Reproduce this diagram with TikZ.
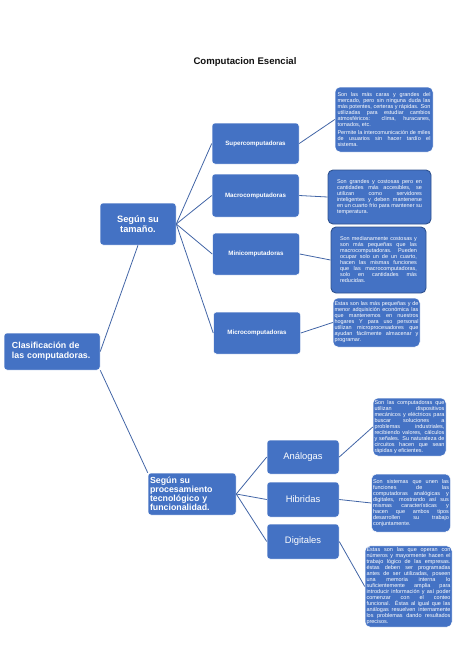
\documentclass[tikz,border=0pt]{standalone}
\usepackage{fontspec}
\setmainfont{Liberation Sans}
\usetikzlibrary{positioning}
\definecolor{cBox}  {HTML}{4472C4}
\definecolor{cEdge} {HTML}{2F528F}
\definecolor{cLine} {HTML}{4265A6}
\definecolor{cTitle}{HTML}{111111}

\begin{document}
\begin{tikzpicture}[
  x=1pt, y=-1pt,
  every node/.style={text=white},
  %
  mainbox/.style={
    fill=cBox, draw=white, line width=0.5pt,
    rounded corners=3pt, inner sep=2pt,
  },
  rootbox/.style={
    mainbox, align=left, text width=80pt, inner xsep=8pt,
    minimum width=96pt, minimum height=37pt,
    font=\fontsize{8.8}{10}\selectfont\bfseries,
  },
  groupbox/.style={
    mainbox, minimum width=#1, minimum height=42pt,
    font=\fontsize{9.3}{10.4}\selectfont\bfseries,
  },
  typebox/.style={
    mainbox, minimum width=87pt, minimum height=#1,
    font=\fontsize{6.2}{7}\selectfont\bfseries,
  },
  kindbox/.style={
    mainbox, minimum width=72pt, minimum height=#1,
    font=\fontsize{9.4}{10}\selectfont,
  },
  notebox/.style={
    fill=cBox, draw=white, line width=0.5pt,
    rounded corners=5pt, inner xsep=1.5pt, inner ysep=2pt,
    align=justify, text width=#1,
    font=\fontsize{5.5}{6}\selectfont,
  },
  darkedge/.style={draw=cEdge, line width=0.9pt},
  link/.style={draw=cLine, line width=0.8pt},
]
\useasboundingbox (0,0) rectangle (474,670);

% ────────────── TITLE ──────────────────────────────────────────────────────
\node[text=cTitle, font=\fontsize{9.6}{11}\selectfont\bfseries] (title) at (245,62) {Computacion Esencial};

% ────────────── ROOT + GROUPS ──────────────────────────────────────────────
\node[rootbox] (clasif) at (52,351.5) {Clasificación de\\las computadoras.};
\node[groupbox=76pt, align=center] (tamano) at (138,224) {Según su\\tamaño.};
\node[groupbox=88pt, align=left, text width=84pt,
      font=\fontsize{8.8}{9.2}\selectfont\bfseries] (proceso) at (192,494)
      {Según su\\procesamiento\\tecnológico y\\funcionalidad.};

% ────────────── SIZE TYPES ─────────────────────────────────────────────────
\node[typebox=41pt] (super) at (255.5,143.5) {Supercomputadoras};
\node[typebox=43pt] (macro) at (255.5,195.5) {Macrocomputadoras};
\node[typebox=42pt] (mini)  at (256,254)     {Minicomputadoras};
\node[typebox=42pt] (micro) at (257,333)     {Microcomputadoras};

% ────────────── PROCESSING TYPES ───────────────────────────────────────────
\node[kindbox=34pt] (analog) at (303,457)   {Análogas};
\node[kindbox=35pt] (hibrid) at (303,499.5) {Hibridas};
\node[kindbox=35pt] (digit)  at (303,541.5) {Digitales};

% ────────────── DESCRIPTIONS ───────────────────────────────────────────────
\node[notebox=93pt, minimum width=98pt, minimum height=65pt] (dsuper) at (384,119.5)
  {Son las más caras y grandes del\linebreak
   mercado, pero sin ninguna duda las\linebreak
   más potentes, certeras y rápidas. Son\linebreak
   utilizadas para estudiar cambios\linebreak
   atmosféricos: clima, huracanes,\linebreak
   tornados, etc.\par\vspace{1.8pt}
   Permite la intercomunicación de miles\linebreak
   de usuarios sin hacer tardío el\linebreak
   sistema.};
\node[notebox=85pt, darkedge, minimum width=103pt, minimum height=54pt] (dmacro) at (379.5,197)
  {Son grandes y costosas pero en\linebreak
   cantidades más accesibles, se\linebreak
   utilizan como servidores\linebreak
   inteligentes y deben mantenerse\linebreak
   en un cuarto frío para mantener su\linebreak
   temperatura.};
\node[notebox=77pt, darkedge, minimum width=95pt, minimum height=66pt] (dmini) at (378.5,260)
  {Son medianamente costosas y\linebreak
   son más pequeñas que las\linebreak
   macrocomputadoras. Pueden\linebreak
   ocupar solo un de un cuarto,\linebreak
   hacen las mismas funciones\linebreak
   que las macrocomputadoras,\linebreak
   solo en cantidades más\linebreak
   reducidas.};
\node[notebox=84pt, minimum width=87pt, minimum height=49pt] (dmicro) at (376.5,322.5)
  {Estas son las más pequeñas y de\linebreak
   menor adquisición económica las\linebreak
   que mantenemos en nuestros\linebreak
   hogares Y para uso personal\linebreak
   utilizan microprocesadores que\linebreak
   ayudan fácilmente almacenar y\linebreak
   programar.};
\node[notebox=70pt, minimum width=73pt, minimum height=58pt] (danalog) at (409.5,427)
  {Son las computadoras que\linebreak
   utilizan dispositivos\linebreak
   mecánicos y eléctricos para\linebreak
   buscar soluciones a\linebreak
   problemas industriales,\linebreak
   recibiendo valores, cálculos\linebreak
   y señales. Su naturaleza de\linebreak
   circuitos hacen que sean\linebreak
   rápidas y eficientes.};
\node[notebox=76pt, minimum width=78pt, minimum height=58pt] (dhibrid) at (411,503)
  {Son sistemas que unen las\linebreak
   funciones de las\linebreak
   computadoras analógicas y\linebreak
   digitales, mostrando así sus\linebreak
   mismas características y\linebreak
   hacen que ambos tipos\linebreak
   desarrollen su trabajo\linebreak
   conjuntamente.};
\node[notebox=84pt, minimum width=87pt, minimum height=79pt] (ddigit) at (408.5,586.5)
  {Estas son las que operan con\linebreak
   números y mayormente hacen el\linebreak
   trabajo lógico de las empresas.\linebreak
   éstas deben ser programadas\linebreak
   antes de ser utilizadas, poseen\linebreak
   una memoria interna lo\linebreak
   suficientemente amplia para\linebreak
   introducir información y así poder\linebreak
   comenzar con el conteo\linebreak
   funcional. Éstas al igual que las\linebreak
   análogas resuelven internamente\linebreak
   los problemas dando resultados\linebreak
   precisos.};

% ────────────── LINKS ──────────────────────────────────────────────────────
\draw[link] (clasif.east) -- (tamano.south);
\draw[link] (clasif.south east) -- (proceso.north west);

\foreach \t in {super, macro, mini, micro}
  \draw[link] (tamano.east) -- (\t.west);
\foreach \k in {analog, hibrid, digit}
  \draw[link] (proceso.east) -- (\k.west);

\draw[link] (super.east)  -- (dsuper.west);
\draw[link] (macro.east)  -- (dmacro.west);
\draw[link] (mini.east)   -- (dmini.west);
\draw[link] (micro.east)  -- (dmicro.west);
\draw[link] (analog.east) -- (danalog.west);
\draw[link] (hibrid.east) -- (dhibrid.west);
\draw[link] (digit.east)  -- (ddigit.west);

\end{tikzpicture}
\end{document}
